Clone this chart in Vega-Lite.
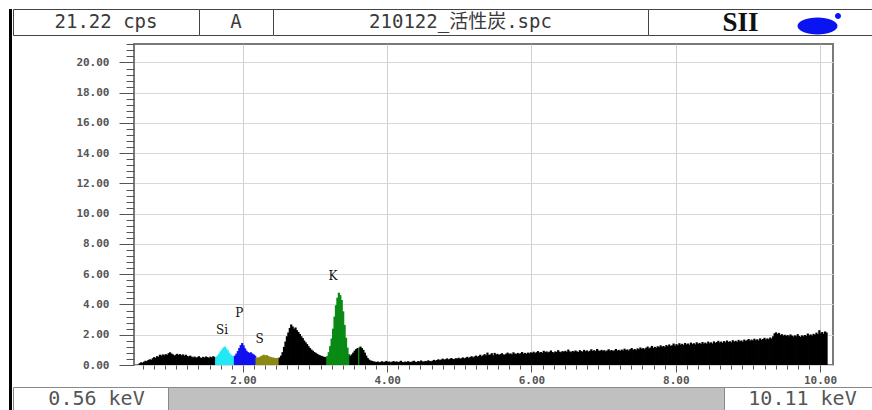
{
  "$schema": "https://vega.github.io/schema/vega-lite/v6.json",
  "background": "white",
  "padding": {"left": 9, "top": 8, "right": 0, "bottom": 0},
  "config": {"view": {"stroke": null}, "concat": {"spacing": 0}},
  "datasets": {
    "spectrum": [
      {"keV":0.57,"cps":0.12,"el":"bg"},{"keV":0.59,"cps":0.18,"el":"bg"},{"keV":0.61,"cps":0.15,"el":"bg"},{"keV":0.63,"cps":0.22,"el":"bg"},{"keV":0.65,"cps":0.28,"el":"bg"},{"keV":0.67,"cps":0.25,"el":"bg"},{"keV":0.69,"cps":0.33,"el":"bg"},{"keV":0.71,"cps":0.38,"el":"bg"},{"keV":0.73,"cps":0.34,"el":"bg"},{"keV":0.75,"cps":0.45,"el":"bg"},
      {"keV":0.77,"cps":0.52,"el":"bg"},{"keV":0.79,"cps":0.47,"el":"bg"},{"keV":0.81,"cps":0.58,"el":"bg"},{"keV":0.83,"cps":0.55,"el":"bg"},{"keV":0.85,"cps":0.68,"el":"bg"},{"keV":0.87,"cps":0.62,"el":"bg"},{"keV":0.89,"cps":0.70,"el":"bg"},{"keV":0.91,"cps":0.64,"el":"bg"},{"keV":0.93,"cps":0.72,"el":"bg"},{"keV":0.95,"cps":0.66,"el":"bg"},
      {"keV":0.97,"cps":0.78,"el":"bg"},{"keV":0.99,"cps":0.84,"el":"bg"},{"keV":1.01,"cps":0.76,"el":"bg"},{"keV":1.03,"cps":0.70,"el":"bg"},{"keV":1.05,"cps":0.62,"el":"bg"},{"keV":1.07,"cps":0.68,"el":"bg"},{"keV":1.09,"cps":0.74,"el":"bg"},{"keV":1.11,"cps":0.66,"el":"bg"},{"keV":1.13,"cps":0.72,"el":"bg"},{"keV":1.15,"cps":0.64,"el":"bg"},
      {"keV":1.17,"cps":0.70,"el":"bg"},{"keV":1.19,"cps":0.62,"el":"bg"},{"keV":1.21,"cps":0.68,"el":"bg"},{"keV":1.23,"cps":0.60,"el":"bg"},{"keV":1.25,"cps":0.56,"el":"bg"},{"keV":1.27,"cps":0.62,"el":"bg"},{"keV":1.29,"cps":0.55,"el":"bg"},{"keV":1.31,"cps":0.50,"el":"bg"},{"keV":1.33,"cps":0.56,"el":"bg"},{"keV":1.35,"cps":0.48,"el":"bg"},
      {"keV":1.37,"cps":0.52,"el":"bg"},{"keV":1.39,"cps":0.58,"el":"bg"},{"keV":1.41,"cps":0.50,"el":"bg"},{"keV":1.43,"cps":0.46,"el":"bg"},{"keV":1.45,"cps":0.54,"el":"bg"},{"keV":1.47,"cps":0.49,"el":"bg"},{"keV":1.49,"cps":0.56,"el":"bg"},{"keV":1.51,"cps":0.52,"el":"bg"},{"keV":1.53,"cps":0.47,"el":"bg"},{"keV":1.55,"cps":0.55,"el":"bg"},
      {"keV":1.57,"cps":0.50,"el":"bg"},{"keV":1.59,"cps":0.58,"el":"bg"},{"keV":1.61,"cps":0.52,"el":"bg"},
      {"keV":1.63,"cps":0.55,"el":"Si"},{"keV":1.65,"cps":0.62,"el":"Si"},{"keV":1.67,"cps":0.75,"el":"Si"},{"keV":1.69,"cps":0.90,"el":"Si"},{"keV":1.71,"cps":1.02,"el":"Si"},{"keV":1.73,"cps":1.15,"el":"Si"},{"keV":1.75,"cps":1.22,"el":"Si"},{"keV":1.77,"cps":1.10,"el":"Si"},{"keV":1.79,"cps":0.98,"el":"Si"},{"keV":1.81,"cps":0.82,"el":"Si"},{"keV":1.83,"cps":0.70,"el":"Si"},{"keV":1.85,"cps":0.62,"el":"Si"},{"keV":1.87,"cps":0.58,"el":"Si"},
      {"keV":1.89,"cps":0.62,"el":"P"},{"keV":1.91,"cps":0.75,"el":"P"},{"keV":1.93,"cps":0.92,"el":"P"},{"keV":1.95,"cps":1.12,"el":"P"},{"keV":1.97,"cps":1.32,"el":"P"},{"keV":1.99,"cps":1.45,"el":"P"},{"keV":2.01,"cps":1.30,"el":"P"},{"keV":2.03,"cps":1.10,"el":"P"},{"keV":2.05,"cps":0.95,"el":"P"},{"keV":2.07,"cps":0.85,"el":"P"},{"keV":2.09,"cps":0.80,"el":"P"},{"keV":2.11,"cps":0.84,"el":"P"},{"keV":2.13,"cps":0.76,"el":"P"},{"keV":2.15,"cps":0.70,"el":"P"},{"keV":2.17,"cps":0.62,"el":"P"},
      {"keV":2.19,"cps":0.50,"el":"S"},{"keV":2.21,"cps":0.48,"el":"S"},{"keV":2.23,"cps":0.52,"el":"S"},{"keV":2.25,"cps":0.58,"el":"S"},{"keV":2.27,"cps":0.62,"el":"S"},{"keV":2.29,"cps":0.68,"el":"S"},{"keV":2.31,"cps":0.64,"el":"S"},{"keV":2.33,"cps":0.66,"el":"S"},{"keV":2.35,"cps":0.60,"el":"S"},{"keV":2.37,"cps":0.55,"el":"S"},{"keV":2.39,"cps":0.52,"el":"S"},{"keV":2.41,"cps":0.50,"el":"S"},{"keV":2.43,"cps":0.48,"el":"S"},{"keV":2.45,"cps":0.45,"el":"S"},{"keV":2.47,"cps":0.47,"el":"S"},{"keV":2.49,"cps":0.44,"el":"S"},
      {"keV":2.51,"cps":0.50,"el":"bg"},{"keV":2.53,"cps":0.62,"el":"bg"},{"keV":2.55,"cps":0.85,"el":"bg"},{"keV":2.57,"cps":1.20,"el":"bg"},{"keV":2.59,"cps":1.55,"el":"bg"},{"keV":2.61,"cps":1.90,"el":"bg"},{"keV":2.63,"cps":2.15,"el":"bg"},{"keV":2.65,"cps":2.45,"el":"bg"},{"keV":2.67,"cps":2.68,"el":"bg"},{"keV":2.69,"cps":2.55,"el":"bg"},
      {"keV":2.71,"cps":2.40,"el":"bg"},{"keV":2.73,"cps":2.48,"el":"bg"},{"keV":2.75,"cps":2.30,"el":"bg"},{"keV":2.77,"cps":2.18,"el":"bg"},{"keV":2.79,"cps":2.05,"el":"bg"},{"keV":2.81,"cps":1.90,"el":"bg"},{"keV":2.83,"cps":1.78,"el":"bg"},{"keV":2.85,"cps":1.62,"el":"bg"},{"keV":2.87,"cps":1.50,"el":"bg"},{"keV":2.89,"cps":1.38,"el":"bg"},
      {"keV":2.91,"cps":1.24,"el":"bg"},{"keV":2.93,"cps":1.12,"el":"bg"},{"keV":2.95,"cps":1.02,"el":"bg"},{"keV":2.97,"cps":0.94,"el":"bg"},{"keV":2.99,"cps":0.86,"el":"bg"},{"keV":3.01,"cps":0.80,"el":"bg"},{"keV":3.03,"cps":0.74,"el":"bg"},{"keV":3.05,"cps":0.68,"el":"bg"},{"keV":3.07,"cps":0.64,"el":"bg"},{"keV":3.09,"cps":0.60,"el":"bg"},
      {"keV":3.11,"cps":0.56,"el":"bg"},{"keV":3.13,"cps":0.54,"el":"bg"},{"keV":3.15,"cps":0.52,"el":"bg"},
      {"keV":3.17,"cps":0.60,"el":"K"},{"keV":3.19,"cps":0.85,"el":"K"},{"keV":3.21,"cps":1.25,"el":"K"},{"keV":3.23,"cps":1.75,"el":"K"},{"keV":3.25,"cps":2.40,"el":"K"},{"keV":3.27,"cps":3.20,"el":"K"},{"keV":3.29,"cps":3.95,"el":"K"},{"keV":3.31,"cps":4.45,"el":"K"},{"keV":3.33,"cps":4.78,"el":"K"},{"keV":3.35,"cps":4.62,"el":"K"},{"keV":3.37,"cps":4.30,"el":"K"},{"keV":3.39,"cps":3.55,"el":"K"},{"keV":3.41,"cps":2.65,"el":"K"},{"keV":3.43,"cps":1.80,"el":"K"},{"keV":3.45,"cps":1.15,"el":"K"},{"keV":3.47,"cps":0.72,"el":"K"},
      {"keV":3.49,"cps":0.62,"el":"bg"},{"keV":3.51,"cps":0.70,"el":"bg"},{"keV":3.53,"cps":0.82,"el":"bg"},{"keV":3.55,"cps":0.95,"el":"bg"},{"keV":3.57,"cps":1.05,"el":"bg"},{"keV":3.59,"cps":1.12,"el":"bg"},{"keV":3.61,"cps":1.15,"el":"K"},{"keV":3.63,"cps":1.22,"el":"bg"},{"keV":3.65,"cps":1.12,"el":"bg"},{"keV":3.67,"cps":1.00,"el":"bg"},
      {"keV":3.69,"cps":0.82,"el":"bg"},{"keV":3.71,"cps":0.62,"el":"bg"},{"keV":3.73,"cps":0.46,"el":"bg"},{"keV":3.75,"cps":0.36,"el":"bg"},{"keV":3.77,"cps":0.30,"el":"bg"},{"keV":3.79,"cps":0.27,"el":"bg"},{"keV":3.81,"cps":0.24,"el":"bg"},{"keV":3.83,"cps":0.22,"el":"bg"},{"keV":3.85,"cps":0.20,"el":"bg"},{"keV":3.87,"cps":0.23,"el":"bg"},
      {"keV":3.89,"cps":0.18,"el":"bg"},{"keV":3.91,"cps":0.21,"el":"bg"},{"keV":3.93,"cps":0.25,"el":"bg"},{"keV":3.95,"cps":0.19,"el":"bg"},{"keV":3.97,"cps":0.22,"el":"bg"},{"keV":3.99,"cps":0.27,"el":"bg"},{"keV":4.01,"cps":0.20,"el":"bg"},{"keV":4.03,"cps":0.23,"el":"bg"},{"keV":4.05,"cps":0.18,"el":"bg"},{"keV":4.07,"cps":0.22,"el":"bg"},
      {"keV":4.09,"cps":0.26,"el":"bg"},{"keV":4.11,"cps":0.20,"el":"bg"},{"keV":4.13,"cps":0.24,"el":"bg"},{"keV":4.15,"cps":0.19,"el":"bg"},{"keV":4.17,"cps":0.22,"el":"bg"},{"keV":4.19,"cps":0.28,"el":"bg"},{"keV":4.21,"cps":0.21,"el":"bg"},{"keV":4.23,"cps":0.18,"el":"bg"},{"keV":4.25,"cps":0.23,"el":"bg"},{"keV":4.27,"cps":0.20,"el":"bg"},
      {"keV":4.29,"cps":0.25,"el":"bg"},{"keV":4.31,"cps":0.21,"el":"bg"},{"keV":4.33,"cps":0.19,"el":"bg"},{"keV":4.35,"cps":0.24,"el":"bg"},{"keV":4.37,"cps":0.28,"el":"bg"},{"keV":4.39,"cps":0.22,"el":"bg"},{"keV":4.41,"cps":0.20,"el":"bg"},{"keV":4.43,"cps":0.26,"el":"bg"},{"keV":4.45,"cps":0.23,"el":"bg"},{"keV":4.47,"cps":0.30,"el":"bg"},
      {"keV":4.49,"cps":0.24,"el":"bg"},{"keV":4.51,"cps":0.22,"el":"bg"},{"keV":4.53,"cps":0.27,"el":"bg"},{"keV":4.55,"cps":0.25,"el":"bg"},{"keV":4.57,"cps":0.31,"el":"bg"},{"keV":4.59,"cps":0.26,"el":"bg"},{"keV":4.61,"cps":0.24,"el":"bg"},{"keV":4.63,"cps":0.29,"el":"bg"},{"keV":4.65,"cps":0.34,"el":"bg"},{"keV":4.67,"cps":0.28,"el":"bg"},
      {"keV":4.69,"cps":0.33,"el":"bg"},{"keV":4.71,"cps":0.38,"el":"bg"},{"keV":4.73,"cps":0.32,"el":"bg"},{"keV":4.75,"cps":0.36,"el":"bg"},{"keV":4.77,"cps":0.42,"el":"bg"},{"keV":4.79,"cps":0.35,"el":"bg"},{"keV":4.81,"cps":0.39,"el":"bg"},{"keV":4.83,"cps":0.44,"el":"bg"},{"keV":4.85,"cps":0.37,"el":"bg"},{"keV":4.87,"cps":0.41,"el":"bg"},
      {"keV":4.89,"cps":0.46,"el":"bg"},{"keV":4.91,"cps":0.40,"el":"bg"},{"keV":4.93,"cps":0.38,"el":"bg"},{"keV":4.95,"cps":0.45,"el":"bg"},{"keV":4.97,"cps":0.42,"el":"bg"},{"keV":4.99,"cps":0.48,"el":"bg"},{"keV":5.01,"cps":0.41,"el":"bg"},{"keV":5.03,"cps":0.45,"el":"bg"},{"keV":5.05,"cps":0.50,"el":"bg"},{"keV":5.07,"cps":0.44,"el":"bg"},
      {"keV":5.09,"cps":0.48,"el":"bg"},{"keV":5.11,"cps":0.54,"el":"bg"},{"keV":5.13,"cps":0.47,"el":"bg"},{"keV":5.15,"cps":0.52,"el":"bg"},{"keV":5.17,"cps":0.58,"el":"bg"},{"keV":5.19,"cps":0.50,"el":"bg"},{"keV":5.21,"cps":0.56,"el":"bg"},{"keV":5.23,"cps":0.62,"el":"bg"},{"keV":5.25,"cps":0.55,"el":"bg"},{"keV":5.27,"cps":0.60,"el":"bg"},
      {"keV":5.29,"cps":0.68,"el":"bg"},{"keV":5.31,"cps":0.58,"el":"bg"},{"keV":5.33,"cps":0.64,"el":"bg"},{"keV":5.35,"cps":0.72,"el":"bg"},{"keV":5.37,"cps":0.63,"el":"bg"},{"keV":5.39,"cps":0.82,"el":"bg"},{"keV":5.41,"cps":0.66,"el":"bg"},{"keV":5.43,"cps":0.70,"el":"bg"},{"keV":5.45,"cps":0.78,"el":"bg"},{"keV":5.47,"cps":0.64,"el":"bg"},
      {"keV":5.49,"cps":0.80,"el":"bg"},{"keV":5.51,"cps":0.69,"el":"bg"},{"keV":5.53,"cps":0.74,"el":"bg"},{"keV":5.55,"cps":0.66,"el":"bg"},{"keV":5.57,"cps":0.72,"el":"bg"},{"keV":5.59,"cps":0.78,"el":"bg"},{"keV":5.61,"cps":0.70,"el":"bg"},{"keV":5.63,"cps":0.68,"el":"bg"},{"keV":5.65,"cps":0.75,"el":"bg"},{"keV":5.67,"cps":0.82,"el":"bg"},
      {"keV":5.69,"cps":0.72,"el":"bg"},{"keV":5.71,"cps":0.77,"el":"bg"},{"keV":5.73,"cps":0.70,"el":"bg"},{"keV":5.75,"cps":0.84,"el":"bg"},{"keV":5.77,"cps":0.76,"el":"bg"},{"keV":5.79,"cps":0.72,"el":"bg"},{"keV":5.81,"cps":0.80,"el":"bg"},{"keV":5.83,"cps":0.74,"el":"bg"},{"keV":5.85,"cps":0.78,"el":"bg"},{"keV":5.87,"cps":0.86,"el":"bg"},
      {"keV":5.89,"cps":0.75,"el":"bg"},{"keV":5.91,"cps":0.80,"el":"bg"},{"keV":5.93,"cps":0.74,"el":"bg"},{"keV":5.95,"cps":0.82,"el":"bg"},{"keV":5.97,"cps":0.77,"el":"bg"},{"keV":5.99,"cps":0.84,"el":"bg"},{"keV":6.01,"cps":0.80,"el":"bg"},{"keV":6.03,"cps":0.88,"el":"bg"},{"keV":6.05,"cps":0.78,"el":"bg"},{"keV":6.07,"cps":0.85,"el":"bg"},
      {"keV":6.09,"cps":0.92,"el":"bg"},{"keV":6.11,"cps":0.82,"el":"bg"},{"keV":6.13,"cps":0.86,"el":"bg"},{"keV":6.15,"cps":0.80,"el":"bg"},{"keV":6.17,"cps":0.94,"el":"bg"},{"keV":6.19,"cps":0.85,"el":"bg"},{"keV":6.21,"cps":0.90,"el":"bg"},{"keV":6.23,"cps":0.83,"el":"bg"},{"keV":6.25,"cps":0.88,"el":"bg"},{"keV":6.27,"cps":0.96,"el":"bg"},
      {"keV":6.29,"cps":0.86,"el":"bg"},{"keV":6.31,"cps":0.82,"el":"bg"},{"keV":6.33,"cps":0.90,"el":"bg"},{"keV":6.35,"cps":0.86,"el":"bg"},{"keV":6.37,"cps":0.98,"el":"bg"},{"keV":6.39,"cps":0.88,"el":"bg"},{"keV":6.41,"cps":0.84,"el":"bg"},{"keV":6.43,"cps":0.92,"el":"bg"},{"keV":6.45,"cps":0.87,"el":"bg"},{"keV":6.47,"cps":0.94,"el":"bg"},
      {"keV":6.49,"cps":0.86,"el":"bg"},{"keV":6.51,"cps":1.02,"el":"bg"},{"keV":6.53,"cps":0.90,"el":"bg"},{"keV":6.55,"cps":0.85,"el":"bg"},{"keV":6.57,"cps":0.93,"el":"bg"},{"keV":6.59,"cps":0.88,"el":"bg"},{"keV":6.61,"cps":0.96,"el":"bg"},{"keV":6.63,"cps":0.90,"el":"bg"},{"keV":6.65,"cps":0.86,"el":"bg"},{"keV":6.67,"cps":0.98,"el":"bg"},
      {"keV":6.69,"cps":0.92,"el":"bg"},{"keV":6.71,"cps":0.88,"el":"bg"},{"keV":6.73,"cps":1.00,"el":"bg"},{"keV":6.75,"cps":0.91,"el":"bg"},{"keV":6.77,"cps":0.96,"el":"bg"},{"keV":6.79,"cps":0.89,"el":"bg"},{"keV":6.81,"cps":0.94,"el":"bg"},{"keV":6.83,"cps":1.04,"el":"bg"},{"keV":6.85,"cps":0.93,"el":"bg"},{"keV":6.87,"cps":0.98,"el":"bg"},
      {"keV":6.89,"cps":0.92,"el":"bg"},{"keV":6.91,"cps":1.06,"el":"bg"},{"keV":6.93,"cps":0.96,"el":"bg"},{"keV":6.95,"cps":0.92,"el":"bg"},{"keV":6.97,"cps":1.00,"el":"bg"},{"keV":6.99,"cps":0.94,"el":"bg"},{"keV":7.01,"cps":0.98,"el":"bg"},{"keV":7.03,"cps":0.90,"el":"bg"},{"keV":7.05,"cps":0.96,"el":"bg"},{"keV":7.07,"cps":1.04,"el":"bg"},
      {"keV":7.09,"cps":0.94,"el":"bg"},{"keV":7.11,"cps":0.99,"el":"bg"},{"keV":7.13,"cps":0.92,"el":"bg"},{"keV":7.15,"cps":0.97,"el":"bg"},{"keV":7.17,"cps":1.06,"el":"bg"},{"keV":7.19,"cps":0.95,"el":"bg"},{"keV":7.21,"cps":1.00,"el":"bg"},{"keV":7.23,"cps":0.93,"el":"bg"},{"keV":7.25,"cps":1.02,"el":"bg"},{"keV":7.27,"cps":0.96,"el":"bg"},
      {"keV":7.29,"cps":1.08,"el":"bg"},{"keV":7.31,"cps":0.98,"el":"bg"},{"keV":7.33,"cps":1.03,"el":"bg"},{"keV":7.35,"cps":0.95,"el":"bg"},{"keV":7.37,"cps":1.05,"el":"bg"},{"keV":7.39,"cps":1.12,"el":"bg"},{"keV":7.41,"cps":1.00,"el":"bg"},{"keV":7.43,"cps":1.06,"el":"bg"},{"keV":7.45,"cps":0.98,"el":"bg"},{"keV":7.47,"cps":1.10,"el":"bg"},
      {"keV":7.49,"cps":1.04,"el":"bg"},{"keV":7.51,"cps":1.16,"el":"bg"},{"keV":7.53,"cps":1.06,"el":"bg"},{"keV":7.55,"cps":1.12,"el":"bg"},{"keV":7.57,"cps":1.04,"el":"bg"},{"keV":7.59,"cps":1.14,"el":"bg"},{"keV":7.61,"cps":1.22,"el":"bg"},{"keV":7.63,"cps":1.10,"el":"bg"},{"keV":7.65,"cps":1.16,"el":"bg"},{"keV":7.67,"cps":1.26,"el":"bg"},
      {"keV":7.69,"cps":1.12,"el":"bg"},{"keV":7.71,"cps":1.20,"el":"bg"},{"keV":7.73,"cps":1.14,"el":"bg"},{"keV":7.75,"cps":1.24,"el":"bg"},{"keV":7.77,"cps":1.18,"el":"bg"},{"keV":7.79,"cps":1.30,"el":"bg"},{"keV":7.81,"cps":1.20,"el":"bg"},{"keV":7.83,"cps":1.26,"el":"bg"},{"keV":7.85,"cps":1.18,"el":"bg"},{"keV":7.87,"cps":1.32,"el":"bg"},
      {"keV":7.89,"cps":1.24,"el":"bg"},{"keV":7.91,"cps":1.36,"el":"bg"},{"keV":7.93,"cps":1.26,"el":"bg"},{"keV":7.95,"cps":1.30,"el":"bg"},{"keV":7.97,"cps":1.42,"el":"bg"},{"keV":7.99,"cps":1.28,"el":"bg"},{"keV":8.01,"cps":1.38,"el":"bg"},{"keV":8.03,"cps":1.30,"el":"bg"},{"keV":8.05,"cps":1.44,"el":"bg"},{"keV":8.07,"cps":1.34,"el":"bg"},
      {"keV":8.09,"cps":1.40,"el":"bg"},{"keV":8.11,"cps":1.32,"el":"bg"},{"keV":8.13,"cps":1.46,"el":"bg"},{"keV":8.15,"cps":1.36,"el":"bg"},{"keV":8.17,"cps":1.42,"el":"bg"},{"keV":8.19,"cps":1.34,"el":"bg"},{"keV":8.21,"cps":1.48,"el":"bg"},{"keV":8.23,"cps":1.38,"el":"bg"},{"keV":8.25,"cps":1.44,"el":"bg"},{"keV":8.27,"cps":1.36,"el":"bg"},
      {"keV":8.29,"cps":1.50,"el":"bg"},{"keV":8.31,"cps":1.40,"el":"bg"},{"keV":8.33,"cps":1.46,"el":"bg"},{"keV":8.35,"cps":1.38,"el":"bg"},{"keV":8.37,"cps":1.52,"el":"bg"},{"keV":8.39,"cps":1.42,"el":"bg"},{"keV":8.41,"cps":1.48,"el":"bg"},{"keV":8.43,"cps":1.40,"el":"bg"},{"keV":8.45,"cps":1.55,"el":"bg"},{"keV":8.47,"cps":1.44,"el":"bg"},
      {"keV":8.49,"cps":1.50,"el":"bg"},{"keV":8.51,"cps":1.42,"el":"bg"},{"keV":8.53,"cps":1.56,"el":"bg"},{"keV":8.55,"cps":1.46,"el":"bg"},{"keV":8.57,"cps":1.52,"el":"bg"},{"keV":8.59,"cps":1.60,"el":"bg"},{"keV":8.61,"cps":1.48,"el":"bg"},{"keV":8.63,"cps":1.55,"el":"bg"},{"keV":8.65,"cps":1.46,"el":"bg"},{"keV":8.67,"cps":1.58,"el":"bg"},
      {"keV":8.69,"cps":1.50,"el":"bg"},{"keV":8.71,"cps":1.62,"el":"bg"},{"keV":8.73,"cps":1.52,"el":"bg"},{"keV":8.75,"cps":1.57,"el":"bg"},{"keV":8.77,"cps":1.50,"el":"bg"},{"keV":8.79,"cps":1.64,"el":"bg"},{"keV":8.81,"cps":1.54,"el":"bg"},{"keV":8.83,"cps":1.60,"el":"bg"},{"keV":8.85,"cps":1.52,"el":"bg"},{"keV":8.87,"cps":1.66,"el":"bg"},
      {"keV":8.89,"cps":1.56,"el":"bg"},{"keV":8.91,"cps":1.62,"el":"bg"},{"keV":8.93,"cps":1.54,"el":"bg"},{"keV":8.95,"cps":1.68,"el":"bg"},{"keV":8.97,"cps":1.58,"el":"bg"},{"keV":8.99,"cps":1.64,"el":"bg"},{"keV":9.01,"cps":1.72,"el":"bg"},{"keV":9.03,"cps":1.60,"el":"bg"},{"keV":9.05,"cps":1.68,"el":"bg"},{"keV":9.07,"cps":1.62,"el":"bg"},
      {"keV":9.09,"cps":1.74,"el":"bg"},{"keV":9.11,"cps":1.64,"el":"bg"},{"keV":9.13,"cps":1.70,"el":"bg"},{"keV":9.15,"cps":1.62,"el":"bg"},{"keV":9.17,"cps":1.76,"el":"bg"},{"keV":9.19,"cps":1.66,"el":"bg"},{"keV":9.21,"cps":1.72,"el":"bg"},{"keV":9.23,"cps":1.80,"el":"bg"},{"keV":9.25,"cps":1.68,"el":"bg"},{"keV":9.27,"cps":1.76,"el":"bg"},
      {"keV":9.29,"cps":1.70,"el":"bg"},{"keV":9.31,"cps":1.82,"el":"bg"},{"keV":9.33,"cps":1.74,"el":"bg"},{"keV":9.35,"cps":1.90,"el":"bg"},{"keV":9.37,"cps":2.10,"el":"bg"},{"keV":9.39,"cps":2.16,"el":"bg"},{"keV":9.41,"cps":2.05,"el":"bg"},{"keV":9.43,"cps":2.12,"el":"bg"},{"keV":9.45,"cps":1.98,"el":"bg"},{"keV":9.47,"cps":2.04,"el":"bg"},
      {"keV":9.49,"cps":1.94,"el":"bg"},{"keV":9.51,"cps":2.00,"el":"bg"},{"keV":9.53,"cps":1.92,"el":"bg"},{"keV":9.55,"cps":1.98,"el":"bg"},{"keV":9.57,"cps":1.90,"el":"bg"},{"keV":9.59,"cps":2.02,"el":"bg"},{"keV":9.61,"cps":1.94,"el":"bg"},{"keV":9.63,"cps":1.88,"el":"bg"},{"keV":9.65,"cps":1.96,"el":"bg"},{"keV":9.67,"cps":1.90,"el":"bg"},
      {"keV":9.69,"cps":2.04,"el":"bg"},{"keV":9.71,"cps":1.92,"el":"bg"},{"keV":9.73,"cps":1.86,"el":"bg"},{"keV":9.75,"cps":1.96,"el":"bg"},{"keV":9.77,"cps":1.90,"el":"bg"},{"keV":9.79,"cps":1.98,"el":"bg"},{"keV":9.81,"cps":1.92,"el":"bg"},{"keV":9.83,"cps":2.08,"el":"bg"},{"keV":9.85,"cps":1.96,"el":"bg"},{"keV":9.87,"cps":2.02,"el":"bg"},
      {"keV":9.89,"cps":1.94,"el":"bg"},{"keV":9.91,"cps":2.06,"el":"bg"},{"keV":9.93,"cps":2.00,"el":"bg"},{"keV":9.95,"cps":2.14,"el":"bg"},{"keV":9.97,"cps":2.04,"el":"bg"},{"keV":9.99,"cps":2.30,"el":"bg"},{"keV":10.01,"cps":2.10,"el":"bg"},{"keV":10.03,"cps":2.18,"el":"bg"},{"keV":10.05,"cps":2.06,"el":"bg"},{"keV":10.07,"cps":2.22,"el":"bg"},
      {"keV":10.09,"cps":2.15,"el":"bg"}
    ],
    "labels": [
      {"keV":1.71,"cps":2.31,"el":"Si"},
      {"keV":1.95,"cps":3.44,"el":"P"},
      {"keV":2.23,"cps":1.74,"el":"S"},
      {"keV":3.25,"cps":5.88,"el":"K"}
    ]
  },
  "spacing": 0,
  "hconcat": [
    {
      "width": 3, "height": 401,
      "view": {"fill": "#000000", "stroke": null},
      "data": {"values": [{"t": ""}]},
      "mark": {"type": "text"},
      "encoding": {"text": {"field": "t"}}
    },
    {
      "spacing": 0,
      "vconcat": [
        {
          "bounds": "flush",
          "spacing": 0,
          "hconcat": [
            {
              "width": 186, "height": 26,
              "view": {"fill": "white", "stroke": "#444444", "strokeWidth": 1},
              "data": {"values": [{"t": "21.22 cps"}]},
              "mark": {"type": "text", "font": "DejaVu Sans Mono", "fontSize": 19, "color": "#3a3a3a"},
              "encoding": {"text": {"field": "t"}}
            },
            {
              "width": 74, "height": 26,
              "view": {"fill": "white", "stroke": "#444444", "strokeWidth": 1},
              "data": {"values": [{"t": "A"}]},
              "mark": {"type": "text", "font": "DejaVu Sans Mono", "fontSize": 19, "color": "#3a3a3a"},
              "encoding": {"text": {"field": "t"}}
            },
            {
              "width": 375, "height": 26,
              "view": {"fill": "white", "stroke": "#444444", "strokeWidth": 1},
              "data": {"values": [{"t": "210122_活性炭.spc"}]},
              "mark": {"type": "text", "font": "DejaVu Sans Mono, Noto Sans CJK JP", "fontSize": 19, "color": "#3a3a3a"},
              "encoding": {"text": {"field": "t"}}
            },
            {
              "width": 225, "height": 26,
              "view": {"fill": "white", "stroke": "#444444", "strokeWidth": 1},
              "data": {"values": [{"t": "SII"}]},
              "layer": [
                {
                  "mark": {"type": "text", "font": "Liberation Serif", "fontWeight": "bold", "fontSize": 27, "color": "#111111", "dx": -20, "dy": 1},
                  "encoding": {"text": {"field": "t"}}
                },
                {
                  "mark": {"type": "point", "filled": true, "color": "#0a14f0", "opacity": 1, "size": 400,
                    "shape": "M 3.7 0.4 A 2 0.85 0 1 0 7.7 0.4 A 2 0.85 0 1 0 3.7 0.4 Z M 7.45 -0.6 A 0.3 0.3 0 1 0 8.05 -0.6 A 0.3 0.3 0 1 0 7.45 -0.6 Z"},
                  "encoding": {}
                }
              ]
            }
          ]
        },
        {
          "bounds": "flush",
          "center": true,
          "spacing": 0,
          "hconcat": [
            {
              "width": 121, "height": 335,
              "data": {"values": [{"t": ""}]},
              "mark": {"type": "text"},
              "encoding": {"text": {"field": "t"}}
            },
            {
              "width": 699, "height": 321,
              "view": {"stroke": "#7a7a7a", "strokeWidth": 2},
              "layer": [
                {
                  "data": {"name": "spectrum"},
                  "mark": {"type": "bar", "orient": "vertical", "size": 2.2, "clip": true},
                  "encoding": {
                    "x": {
                      "field": "keV", "type": "quantitative",
                      "scale": {"domain": [0.56, 10.11], "nice": false, "zero": false},
                      "axis": {
                        "title": null,
                        "domain": false,
                        "tickCount": 200,
                        "values": [0.6154,0.7692,0.9231,1.0769,1.2308,1.3846,1.5385,1.6923,1.8462,2,2.1538,2.3077,2.4615,2.6154,2.7692,2.9231,3.0769,3.2308,3.3846,3.5385,3.6923,3.8462,4,4.1538,4.3077,4.4615,4.6154,4.7692,4.9231,5.0769,5.2308,5.3846,5.5385,5.6923,5.8462,6,6.1538,6.3077,6.4615,6.6154,6.7692,6.9231,7.0769,7.2308,7.3846,7.5385,7.6923,7.8462,8,8.1538,8.3077,8.4615,8.6154,8.7692,8.9231,9.0769,9.2308,9.3846,9.5385,9.6923,9.8462,10],
                        "labelExpr": "abs(datum.value/2-round(datum.value/2))<0.001 ? format(datum.value, '.2f') : ''",
                        "labelOverlap": false,
                        "labelFlush": false,
                        "labelFont": "DejaVu Sans Mono",
                        "labelFontSize": 11,
                        "labelFontWeight": "bold",
                        "labelColor": "#555555",
                        "labelPadding": 2,
                        "tickColor": "#555555",
                        "tickSize": {"condition": {"test": "abs(datum.value/2-round(datum.value/2))<0.001", "value": 7}, "value": 4},
                        "grid": true,
                        "gridColor": "#d0d0d0",
                        "gridOpacity": {"condition": {"test": "abs(datum.value/2-round(datum.value/2))<0.001", "value": 1}, "value": 0}
                      }
                    },
                    "y": {
                      "field": "cps", "type": "quantitative", "stack": null,
                      "scale": {"domain": [0, 21.22], "nice": false},
                      "axis": {
                        "title": null,
                        "domain": false,
                        "tickCount": 200,
                        "values": [0,0.4,0.8,1.2,1.6,2,2.4,2.8,3.2,3.6,4,4.4,4.8,5.2,5.6,6,6.4,6.8,7.2,7.6,8,8.4,8.8,9.2,9.6,10,10.4,10.8,11.2,11.6,12,12.4,12.8,13.2,13.6,14,14.4,14.8,15.2,15.6,16,16.4,16.8,17.2,17.6,18,18.4,18.8,19.2,19.6,20,20.4,20.8,21.2],
                        "labelExpr": "abs(datum.value/2-round(datum.value/2))<0.001 ? format(datum.value, '.2f') : ''",
                        "labelOverlap": false,
                        "labelFlush": false,
                        "labelFont": "DejaVu Sans Mono",
                        "labelFontSize": 11,
                        "labelFontWeight": "bold",
                        "labelColor": "#555555",
                        "labelPadding": 10,
                        "tickColor": "#555555",
                        "tickSize": {"condition": {"test": "abs(datum.value/2-round(datum.value/2))<0.001", "value": 15}, "value": 8},
                        "grid": true,
                        "gridColor": "#d8d8d8",
                        "gridOpacity": {"condition": {"test": "abs(datum.value/2-round(datum.value/2))<0.001", "value": 1}, "value": 0}
                      }
                    },
                    "color": {
                      "field": "el", "type": "nominal",
                      "scale": {"domain": ["bg", "Si", "P", "S", "K"], "range": ["#000000", "#22e8f5", "#1010f0", "#8a8a12", "#0a8a14"]},
                      "legend": null
                    }
                  }
                },
                {
                  "data": {"name": "labels"},
                  "mark": {"type": "text", "font": "DejaVu Serif", "fontSize": 12, "color": "#111111"},
                  "encoding": {
                    "x": {"field": "keV", "type": "quantitative"},
                    "y": {"field": "cps", "type": "quantitative"},
                    "text": {"field": "el"}
                  }
                }
              ]
            },
            {
              "width": 40, "height": 335,
              "data": {"values": [{"t": ""}]},
              "mark": {"type": "text"},
              "encoding": {"text": {"field": "t"}}
            }
          ]
        },
        {
          "bounds": "flush",
          "spacing": 0,
          "hconcat": [
            {
              "width": 155, "height": 23,
              "view": {"fill": "white", "stroke": "#888888", "strokeWidth": 1},
              "data": {"values": [{"t": "0.56 keV"}]},
              "mark": {"type": "text", "font": "DejaVu Sans Mono", "fontSize": 20, "color": "#555555", "dx": 6},
              "encoding": {"text": {"field": "t"}}
            },
            {
              "width": 556, "height": 23,
              "view": {"fill": "#c0c0c0", "stroke": "#888888", "strokeWidth": 1},
              "data": {"values": [{"t": ""}]},
              "mark": {"type": "text"},
              "encoding": {"text": {"field": "t"}}
            },
            {
              "width": 149, "height": 23,
              "view": {"fill": "white", "stroke": "#888888", "strokeWidth": 1},
              "data": {"values": [{"t": "10.11 keV"}]},
              "mark": {"type": "text", "font": "DejaVu Sans Mono", "fontSize": 20, "color": "#555555", "dx": 4},
              "encoding": {"text": {"field": "t"}}
            }
          ]
        }
      ]
    }
  ]
}
